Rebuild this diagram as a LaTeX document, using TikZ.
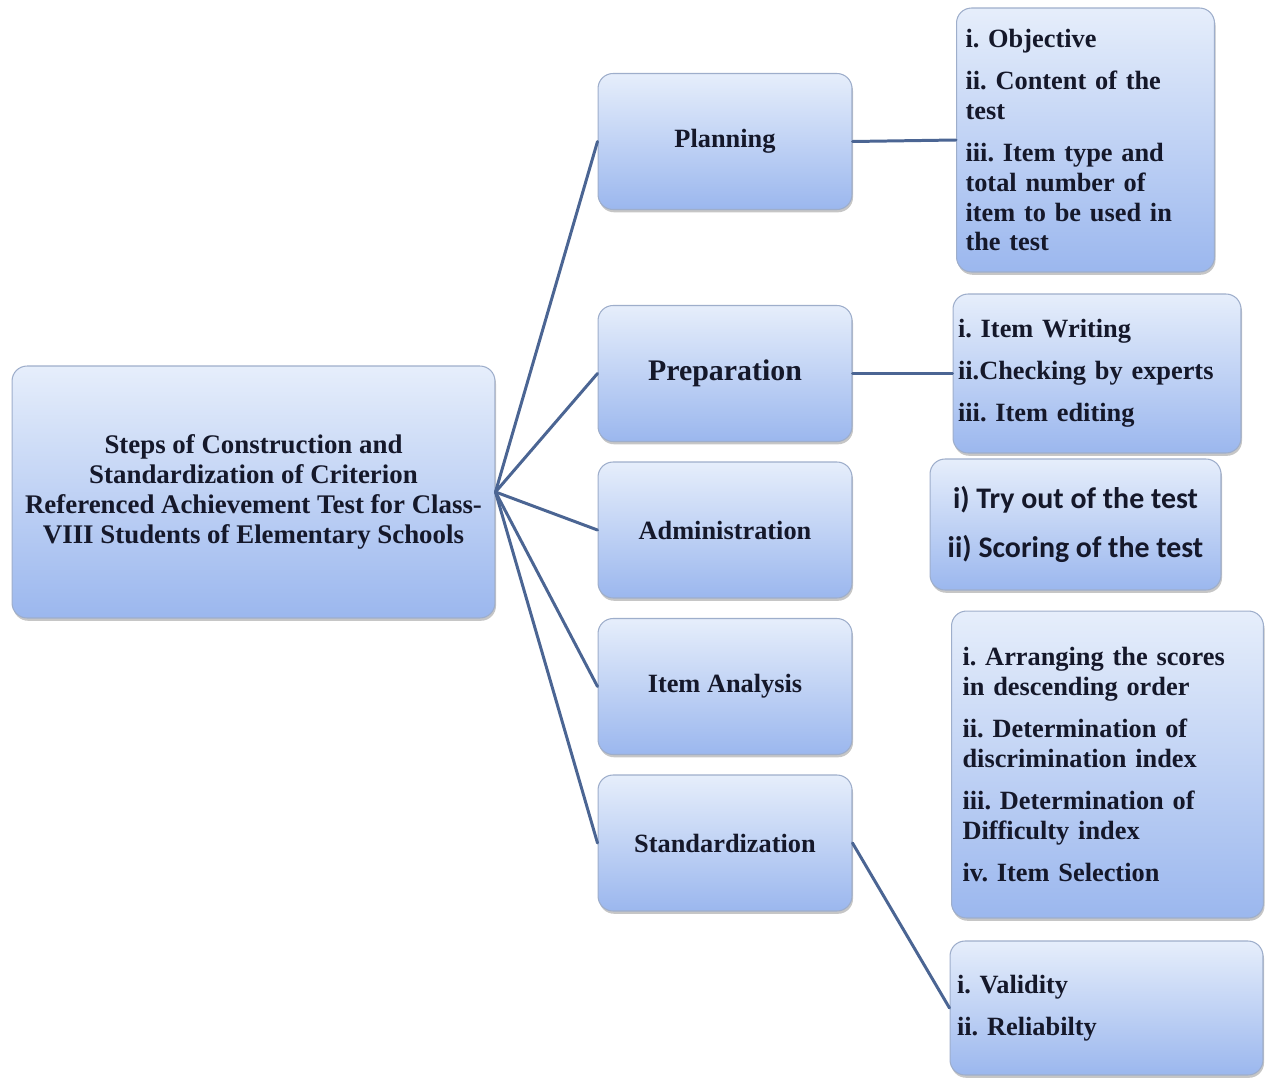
\documentclass[tikz,border=0pt]{standalone}
\usepackage{fontspec}
\setmainfont{Liberation Serif}
\newfontfamily\calibri{Carlito}
\usetikzlibrary{shadows}
\frenchspacing
\definecolor{boxtop}{HTML}{E6EEFB}
\definecolor{boxbot}{HTML}{9BB7EE}
\definecolor{boxline}{HTML}{9EAECB}
\definecolor{linkcol}{HTML}{4B6593}
\definecolor{ink}{HTML}{15182A}
\tikzset{
  bluebox/.style={rectangle, rounded corners=0.3cm, draw=boxline, line width=0.6pt,
    top color=boxtop, bottom color=boxbot, text=ink,
    drop shadow={shadow xshift=0.6pt, shadow yshift=-1.6pt, opacity=0.45},
    font=\bfseries\fontsize{15}{17}\selectfont},
  stepbox/.style={bluebox, minimum width=5.08cm, minimum height=2.72cm},
  listbox/.style={bluebox, align=left},
  link/.style={draw=linkcol, line width=1.7pt}
}
\begin{document}
\begin{tikzpicture}[x=0.02cm, y=-0.02cm, line cap=round, line join=round]
\useasboundingbox (0,0) rectangle (1265,1078);
\node[bluebox, minimum width=9.66cm, minimum height=5.04cm, align=center,
  font=\bfseries\fontsize{15.3}{17}\selectfont] (root) at (253.5,492)
  {Steps of Construction and\\Standardization of Criterion\\Referenced Achievement Test for Class-\\VIII Students of Elementary Schools};
\node[stepbox] (plan) at (725,141.5) {Planning};
\node[stepbox, font=\bfseries\fontsize{17}{19}\selectfont] (prep) at (725,373.5) {Preparation};
\node[stepbox] (admin) at (725,530) {Administration};
\node[stepbox] (itan) at (725,686.5) {Item Analysis};
\node[stepbox] (std) at (725,843) {Standardization};
\node[listbox, text width=4.8cm, inner xsep=0.18cm, minimum width=5.1cm, minimum height=5.28cm] (planlist) at (1085.5,140)
  {i. Objective\\[7pt]ii. Content of the\\test\\[7pt]iii. Item type and\\total number of\\item to be used in\\the test};
\node[listbox, text width=5.56cm, inner xsep=0.1cm, minimum width=5.76cm, minimum height=3.18cm] (preplist) at (1097,373.5)
  {i. Item Writing\\[7pt]ii.Checking by experts\\[7pt]iii. Item editing};
\node[bluebox, align=center, minimum width=5.82cm, minimum height=2.62cm, font=\calibri\bfseries\fontsize{17}{28}\selectfont] (adminlist) at (1075.5,524.5)
  {i) Try out of the test\\ii) Scoring of the test};
\node[listbox, text width=5.8cm, inner xsep=0.22cm, minimum width=6.22cm, minimum height=6.14cm] (itanlist) at (1107.5,764.5)
  {i. Arranging the scores\\in descending order\\[7pt]ii. Determination of\\discrimination index\\[7pt]iii. Determination of\\Difficulty index\\[7pt]iv. Item Selection};
\node[listbox, text width=5.98cm, inner xsep=0.14cm, minimum width=6.26cm, minimum height=2.68cm] (stdlist) at (1106.5,1008)
  {i. Validity\\[7pt]ii. Reliabilty};
\foreach \s in {plan,prep,admin,itan,std}
  \draw[link] (root.east) -- (\s.west);
\draw[link] (plan.east) -- (planlist.west);
\draw[link] (prep.east) -- (preplist.west);
\draw[link] (std.east) -- (stdlist.west);
\end{tikzpicture}
\end{document}
